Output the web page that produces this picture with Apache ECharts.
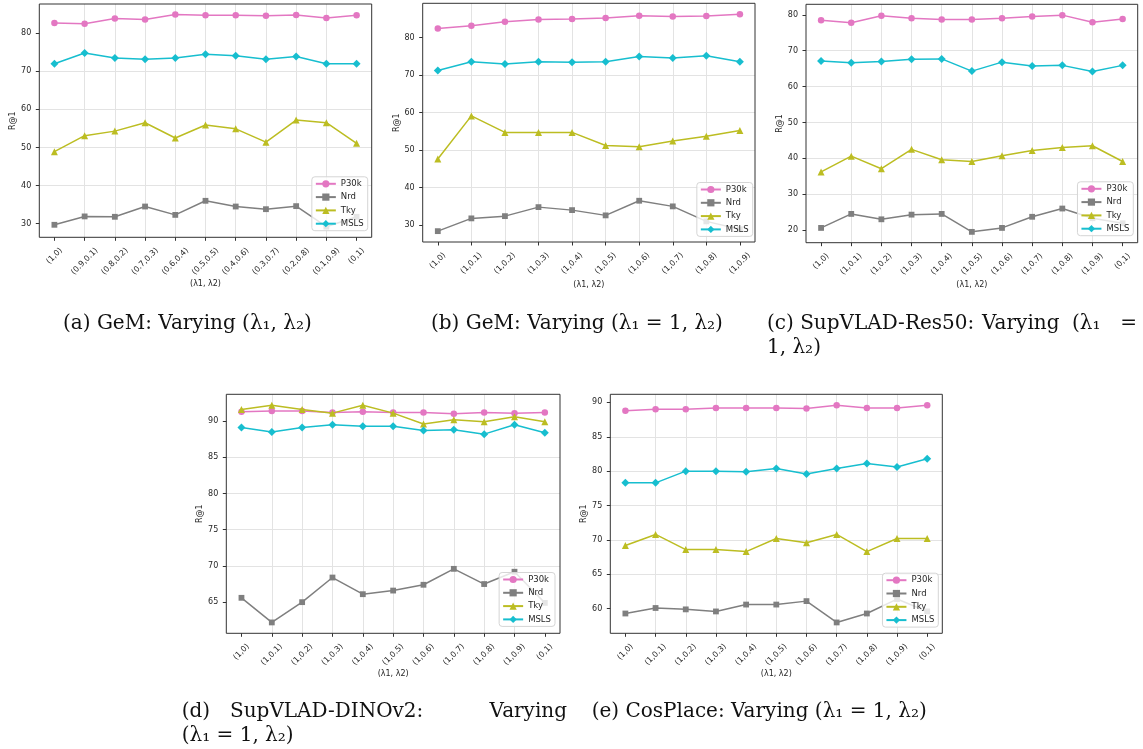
<!DOCTYPE html>
<html><head><meta charset="utf-8">
<script src="https://cdn.jsdelivr.net/npm/echarts@6.0.0/dist/echarts.min.js"></script>
<style>html,body{margin:0;padding:0;background:#fff;}#chart{width:1143px;height:749px;}</style>
</head><body><div id="chart"></div>
<script>
// ---- categories ----
const catsA = ['(1,0)','(0.9,0.1)','(0.8,0.2)','(0.7,0.3)','(0.6,0.4)','(0.5,0.5)','(0.4,0.6)','(0.3,0.7)','(0.2,0.8)','(0.1,0.9)','(0,1)'];
const catsB = ['(1,0)','(1,0.1)','(1,0.2)','(1,0.3)','(1,0.4)','(1,0.5)','(1,0.6)','(1,0.7)','(1,0.8)','(1,0.9)'];
const catsCDE = ['(1,0)','(1,0.1)','(1,0.2)','(1,0.3)','(1,0.4)','(1,0.5)','(1,0.6)','(1,0.7)','(1,0.8)','(1,0.9)','(0,1)'];
const seriesNames = ['P30k','Nrd','Tky','MSLS'];
const xName = '(λ1, λ2)';
const yName = 'R@1';

// ---- (a) GeM: varying (l1, l2) ----
const a_P30k = [82.7,82.5,83.9,83.6,84.9,84.7,84.7,84.6,84.8,84.0,84.7];
const a_Nrd  = [29.7,31.9,31.8,34.5,32.3,36.0,34.5,33.8,34.6,29.2,31.8];
const a_Tky  = [48.9,53.1,54.3,56.5,52.5,55.9,54.9,51.4,57.2,56.5,51.1];
const a_MSLS = [72.0,74.8,73.5,73.2,73.5,74.5,74.1,73.2,73.9,72.0,72.0];
// ---- (b) GeM: varying (l1=1, l2) ----
const b_P30k = [82.4,83.1,84.2,84.8,84.9,85.2,85.8,85.6,85.7,86.2];
const b_Nrd  = [28.4,31.8,32.4,34.8,34.0,32.6,36.5,35.0,31.0,28.9];
const b_Tky  = [47.6,59.1,54.7,54.7,54.7,51.2,50.9,52.4,53.7,55.2];
const b_MSLS = [71.2,73.5,72.9,73.5,73.4,73.5,74.9,74.5,75.1,73.5];
// ---- (c) SupVLAD-Res50 ----
const c_P30k = [78.5,77.8,79.7,79.0,78.7,78.7,79.0,79.5,79.9,77.9,78.8];
const c_Nrd  = [20.6,24.5,23.0,24.3,24.5,19.5,20.6,23.7,26.0,23.3,21.9];
const c_Tky  = [36.2,40.6,37.1,42.5,39.6,39.1,40.7,42.2,43.0,43.5,39.1];
const c_MSLS = [67.1,66.6,67.0,67.6,67.7,64.3,66.8,65.7,65.9,64.2,65.9];
// ---- (d) SupVLAD-DINOv2 ----
const d_P30k = [91.3,91.4,91.4,91.2,91.3,91.2,91.2,91.0,91.2,91.1,91.2];
const d_Nrd  = [65.6,62.2,65.0,68.4,66.1,66.6,67.4,69.6,67.5,69.2,64.9];
const d_Tky  = [91.6,92.2,91.6,91.1,92.2,91.1,89.6,90.2,89.9,90.6,89.9];
const d_MSLS = [89.1,88.5,89.1,89.5,89.3,89.3,88.7,88.8,88.2,89.5,88.4];
// ---- (e) CosPlace ----
const e_P30k = [88.8,89.0,89.0,89.2,89.2,89.2,89.1,89.6,89.2,89.2,89.6];
const e_Nrd  = [59.3,60.1,59.9,59.6,60.6,60.6,61.1,58.0,59.3,61.4,59.6];
const e_Tky  = [69.2,70.8,68.6,68.6,68.3,70.2,69.6,70.8,68.3,70.2,70.2];
const e_MSLS = [78.3,78.3,80.0,80.0,79.9,80.4,79.6,80.4,81.1,80.6,81.8];

// ---- captions (text) ----
const captions = [
  {text:'(a) GeM: Varying (λ₁, λ₂)', x:63, y:324},
  {text:'(b) GeM: Varying (λ₁ = 1, λ₂)', x:431, y:324},
  {text:'(c) SupVLAD-Res50:', x:767, y:324},
  {text:'Varying', x:982, y:324},
  {text:'(λ₁', x:1072, y:324},
  {text:'=', x:1137, y:324, align:'right'},
  {text:'1, λ₂)', x:767, y:348},
  {text:'(d)', x:181.7, y:712},
  {text:'SupVLAD-DINOv2:', x:230, y:712},
  {text:'Varying', x:567, y:712, align:'right'},
  {text:'(λ₁ = 1, λ₂)', x:181.7, y:736},
  {text:'(e) CosPlace: Varying (λ₁ = 1, λ₂)', x:591.7, y:712}
];

// ---- styling / layout ----
const colors = {P30k:'#e377c2', Nrd:'#7f7f7f', Tky:'#bcbd22', MSLS:'#17becf'};
const symbols = {P30k:'circle', Nrd:'rect', Tky:'triangle', MSLS:'diamond'};
const symbolSizes = {P30k:6.5, Nrd:5.8, Tky:7, MSLS:8};
const layouts = [
  {box:[39.3,4,371.7,237.3],   xNameGap:43, legendRight:367.7, legendRow:184.3},
  {box:[422.7,3.3,755,242],    xNameGap:39, legendRight:752.7, legendRow:190},
  {box:[806,4.3,1137.7,242.7], xNameGap:38, legendRight:1133.3, legendRow:189.3},
  {box:[226.3,394.3,560,633.3],xNameGap:37, legendRight:555, legendRow:580},
  {box:[610.3,394.3,942.3,633.3],xNameGap:36, legendRight:938.3, legendRow:580.7}
];
const panels = [
  {cats:catsA, vals:[a_P30k,a_Nrd,a_Tky,a_MSLS]},
  {cats:catsB, vals:[b_P30k,b_Nrd,b_Tky,b_MSLS]},
  {cats:catsCDE, vals:[c_P30k,c_Nrd,c_Tky,c_MSLS]},
  {cats:catsCDE, vals:[d_P30k,d_Nrd,d_Tky,d_MSLS]},
  {cats:catsCDE, vals:[e_P30k,e_Nrd,e_Tky,e_MSLS]}
];

const FAM = 'DejaVu Sans';
const TICK_FS = 8;
const TXT = '#262626';
const SPINE = '#333';
const GRIDC = '#e3e3e3';
const W = 1143;

const mctx = document.createElement('canvas').getContext('2d');
mctx.font = TICK_FS + 'px "' + FAM + '"';

const grid = [], xAxis = [], yAxis = [], series = [], legend = [];
panels.forEach((p, i) => {
  const L = layouts[i];
  const [x0, y0, x1, y1] = L.box;
  grid.push({left:x0, top:y0, width:x1-x0, height:y1-y0, show:true, z:3,
    borderColor:SPINE, borderWidth:1, backgroundColor:'transparent', containLabel:false, outerBoundsMode:'none'});
  const n = p.cats.length, m = 0.05 * (n - 1);
  const idx = p.cats.map((c, k) => k);
  const rich = {};
  p.cats.forEach((c, k) => {
    const w = mctx.measureText(c).width;
    const P = w / 2;
    rich['t' + k] = {padding:[P, P, 0, 0], fontSize:TICK_FS, fontFamily:FAM, color:TXT};
  });
  xAxis.push({
    gridIndex:i, type:'value', position:'bottom', min:-m, max:n - 1 + m, splitNumber:n - 1,
    axisLine:{show:false, onZero:false},
    axisTick:{show:true, length:3.5, lineStyle:{color:SPINE}, customValues:idx},
    splitLine:{show:true, showMinLine:false, showMaxLine:false, lineStyle:{color:GRIDC, width:1}},
    axisLabel:{rotate:45, align:'center', verticalAlign:'middle', margin:12,
      showMinLabel:false, showMaxLabel:false,
      formatter:(v) => { const k = Math.round(v); return (Math.abs(v - k) < 1e-6 && k >= 0 && k < n) ? ('{t' + k + '|' + p.cats[k] + '}') : ''; },
      rich:rich},
    name:xName, nameLocation:'middle', nameGap:L.xNameGap,
    nameTextStyle:{fontSize:TICK_FS, fontFamily:FAM, color:TXT, verticalAlign:'top'}
  });
  const all = [].concat(...p.vals);
  const lo = Math.min(...all), hi = Math.max(...all), pad = 0.05 * (hi - lo);
  const step = (hi - lo) > 40 ? 10 : 5;
  const yt = [];
  for (let t = Math.ceil((lo - pad) / step) * step; t <= hi + pad; t += step) yt.push(t);
  yAxis.push({
    gridIndex:i, type:'value', position:'left', min:lo - pad, max:hi + pad, splitNumber:6,
    axisLine:{show:false, onZero:false},
    axisTick:{show:true, length:3.5, lineStyle:{color:SPINE}, customValues:yt},
    splitLine:{show:true, showMinLine:false, showMaxLine:false, lineStyle:{color:GRIDC, width:1}},
    axisLabel:{fontSize:TICK_FS, fontFamily:FAM, color:TXT, margin:8, showMinLabel:false, showMaxLabel:false},
    name:yName, nameLocation:'middle', nameGap:21,
    nameTextStyle:{fontSize:TICK_FS, fontFamily:FAM, color:TXT}
  });
  seriesNames.forEach((s, j) => {
    series.push({
      type:'line', name:s, xAxisIndex:i, yAxisIndex:i,
      data:p.vals[j].map((v, k) => [k, v]),
      symbol:symbols[s], symbolSize:symbolSizes[s], showSymbol:true,
      lineStyle:{width:1.5, color:colors[s]}, itemStyle:{color:colors[s]},
      emphasis:{disabled:true}, animation:false, z:2 + j
    });
  });
  legend.push({
    orient:'vertical', right:W - L.legendRight, top:L.legendRow - 7.5,
    data:seriesNames, itemWidth:20, itemHeight:9, itemGap:4.3,
    padding:[2.5, 4, 2.5, 3],
    backgroundColor:'rgba(255,255,255,0.8)', borderColor:'#d5d5d5', borderWidth:1, borderRadius:3,
    textStyle:{fontSize:8.5, fontFamily:FAM, color:TXT},
    selectedMode:false
  });
});

const graphic = captions.map(c => ({
  type:'text', x:c.x, y:c.y, silent:true,
  style:{text:c.text, font:'20px "DejaVu Serif"', fill:'#111', align:c.align || 'left', verticalAlign:'middle'}
}));

const chart = echarts.init(document.getElementById('chart'), null, {renderer:'canvas'});
chart.setOption({
  animation:false, backgroundColor:'#fff',
  grid, xAxis, yAxis, series, legend, graphic
});
</script>
</body></html>
